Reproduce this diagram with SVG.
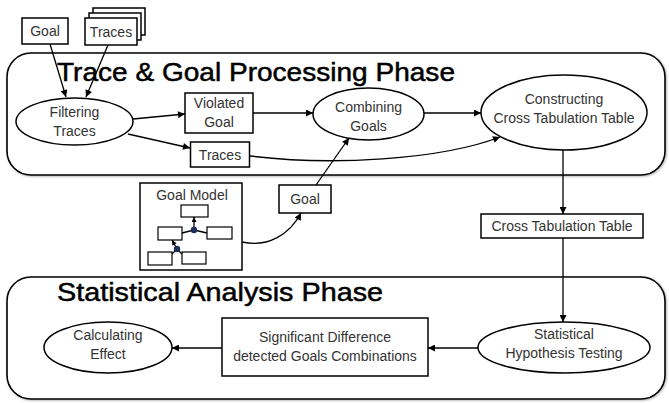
<svg xmlns="http://www.w3.org/2000/svg" width="669" height="403" viewBox="0 0 669 403">
<defs>
<marker id="ah" viewBox="0 0 10 10" refX="10" refY="5" markerWidth="8" markerHeight="7" markerUnits="userSpaceOnUse" orient="auto"><path d="M0,0 L10,5 L0,10 z" fill="#000"/></marker>
<marker id="ahs" viewBox="0 0 10 10" refX="10" refY="5" markerWidth="6" markerHeight="5" markerUnits="userSpaceOnUse" orient="auto"><path d="M0,0 L10,5 L0,10 z" fill="#000"/></marker>
<filter id="sh" x="-5%" y="-10%" width="110%" height="120%"><feDropShadow dx="1" dy="1" stdDeviation="1" flood-color="#000" flood-opacity="0.3"/></filter>
</defs>
<style>
.phase{fill:#fff;stroke:#000;stroke-width:1.6}
.box{fill:#fff;stroke:#000;stroke-width:1.5}
.sm{fill:#fff;stroke:#000;stroke-width:1.2}
.t{font-family:"Liberation Sans",Arial,sans-serif;font-size:14px;fill:#333;text-anchor:middle}
.title{font-family:"Liberation Sans",Arial,sans-serif;font-size:26px;fill:#000;stroke:#000;stroke-width:0.5}
.c{fill:none;stroke:#000;stroke-width:1.3}
</style>
<g id="phase1"><rect class="phase" x="7" y="53" width="658" height="122" rx="24" filter="url(#sh)"/><text class="title" x="57" y="81" textLength="398" lengthAdjust="spacingAndGlyphs">Trace &amp; Goal Processing Phase</text></g>
<g id="phase2"><rect class="phase" x="7" y="277" width="658" height="122" rx="24" filter="url(#sh)"/><text class="title" x="57" y="301" textLength="326" lengthAdjust="spacingAndGlyphs">Statistical Analysis Phase</text></g>

<g id="connectors">
<line class="c" x1="50" y1="44" x2="66" y2="97" marker-end="url(#ah)"/>
<line class="c" x1="108" y1="45" x2="86" y2="97" marker-end="url(#ah)"/>
<line class="c" x1="133" y1="119" x2="185" y2="114" marker-end="url(#ah)"/>
<line class="c" x1="128" y1="134" x2="190" y2="148" marker-end="url(#ah)"/>
<line class="c" x1="253" y1="113" x2="313" y2="113" marker-end="url(#ah)"/>
<line class="c" x1="424" y1="113" x2="481" y2="113" marker-end="url(#ah)"/>
<path class="c" d="M250,156 C330,166 440,160 500,137" marker-end="url(#ah)"/>
<line class="c" x1="316" y1="185" x2="349" y2="138" marker-end="url(#ah)"/>
<path class="c" d="M242,242 C268,248 290,234 301,213" marker-end="url(#ah)"/>
<line class="c" x1="563" y1="150" x2="563" y2="214" marker-end="url(#ah)"/>
<line class="c" x1="563" y1="238" x2="563" y2="322" marker-end="url(#ah)"/>
<line class="c" x1="478" y1="348" x2="428" y2="348" marker-end="url(#ah)"/>
<line class="c" x1="222" y1="348" x2="172" y2="348" marker-end="url(#ah)"/>
</g>

<g id="goal-in"><rect class="box" x="22" y="18" width="46" height="26"/><text class="t" x="45" y="36">Goal</text></g>
<g id="traces-in"><rect class="box" x="93" y="8" width="52" height="27"/><rect class="box" x="89" y="13" width="52" height="27"/><rect class="box" x="85" y="18" width="52" height="27"/><text class="t" x="111" y="37">Traces</text></g>
<g id="filtering"><ellipse class="box" cx="74.5" cy="121.5" rx="58.5" ry="23.5"/><text class="t" x="74.5" y="117">Filtering</text><text class="t" x="74.5" y="136">Traces</text></g>
<g id="violated"><rect class="box" x="185" y="93" width="68" height="40"/><text class="t" x="219" y="108">Violated</text><text class="t" x="219" y="127">Goal</text></g>
<g id="traces-mid"><rect class="box" x="190.5" y="142" width="59" height="25"/><text class="t" x="220" y="160">Traces</text></g>
<g id="combining"><ellipse class="box" cx="368.5" cy="114" rx="55.5" ry="26"/><text class="t" x="368.5" y="112">Combining</text><text class="t" x="368.5" y="131">Goals</text></g>
<g id="constructing"><ellipse class="box" cx="564" cy="112.5" rx="83" ry="37.5"/><text class="t" x="564" y="104">Constructing</text><text class="t" x="564" y="123">Cross Tabulation Table</text></g>
<g id="goal-model">
<rect class="box" x="140" y="183" width="102" height="87"/>
<text class="t" x="192" y="200">Goal Model</text>
<rect class="sm" x="181" y="205" width="27" height="12"/>
<rect class="sm" x="158" y="227" width="24" height="13"/>
<rect class="sm" x="207" y="227" width="25" height="12"/>
<rect class="sm" x="148" y="252" width="24" height="13"/>
<rect class="sm" x="182" y="252" width="24" height="12"/>
<polyline class="c" points="182,233 194,230 207,233"/>
<line class="c" x1="194" y1="230" x2="194" y2="217" marker-end="url(#ahs)"/>
<polyline class="c" points="172,254 177,249 182,254"/>
<line class="c" x1="177" y1="249" x2="172" y2="240" marker-end="url(#ahs)"/>
<circle cx="194" cy="230" r="3.2" fill="#1c2f5e"/>
<circle cx="177" cy="249" r="3.2" fill="#1c2f5e"/>
</g>
<g id="goal-mid"><rect class="box" x="279" y="185" width="52" height="28"/><text class="t" x="305" y="204">Goal</text></g>
<g id="crosstab"><rect class="box" x="481" y="214" width="162" height="24"/><text class="t" x="562" y="231">Cross Tabulation Table</text></g>
<g id="statistical"><ellipse class="box" cx="564" cy="347.5" rx="86" ry="25.5"/><text class="t" x="564" y="339">Statistical</text><text class="t" x="564" y="358">Hypothesis Testing</text></g>
<g id="significant"><rect class="box" x="222" y="318" width="206" height="58"/><text class="t" x="325" y="342">Significant Difference</text><text class="t" x="325" y="361">detected Goals Combinations</text></g>
<g id="calculating"><ellipse class="box" cx="108" cy="347.5" rx="64" ry="25.5"/><text class="t" x="108" y="340">Calculating</text><text class="t" x="108" y="359">Effect</text></g>
</svg>
